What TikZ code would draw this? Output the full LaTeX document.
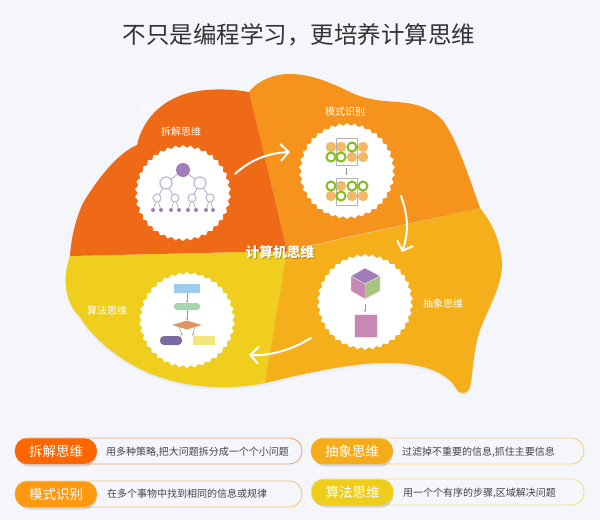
\documentclass[tikz,border=0pt]{standalone}
\usepackage{fontspec}
\setmainfont{Noto Sans CJK SC}
\usetikzlibrary{arrows.meta,shapes.geometric}
\definecolor{bgc}{HTML}{F4F6FB}
\definecolor{redc}{HTML}{EE6A16}
\definecolor{orc}{HTML}{F5931D}
\definecolor{amc}{HTML}{F4AF1A}
\definecolor{yec}{HTML}{EFCE1E}
\definecolor{purc}{HTML}{A07DB8}
\definecolor{lpur}{HTML}{CBBBDF}
\definecolor{pinkc}{HTML}{C987B3}
\definecolor{grnc}{HTML}{A9C47F}
\definecolor{ringc}{HTML}{84BD1E}
\definecolor{dotc}{HTML}{F0BA68}
\definecolor{txtc}{HTML}{444444}
\definecolor{fblue}{HTML}{9CCBEE}
\definecolor{fgreen}{HTML}{A7D6AE}
\definecolor{forange}{HTML}{E19463}
\definecolor{fpurple}{HTML}{7A6A9F}
\definecolor{fyellow}{HTML}{F2E57E}
\tikzset{
  stampc/.style={star,star points=38,star point ratio=1.06,minimum size=96pt,inner sep=0pt,fill=white,draw=none},
  lab/.style={text=white,font=\fontsize{10}{11}\selectfont},
  flow/.style={white,line width=2pt,line cap=round,-{Straight Barb[length=8pt,width=17pt,line width=2pt]}},
  thin/.style={draw=gray!80,line width=.6pt},
  thinarrow/.style={thin,-{Stealth[length=2pt,width=2pt]}},
  lv1/.style={circle,fill=purc,minimum size=14pt,inner sep=0pt},
  lv2/.style={circle,fill=white,draw=lpur,line width=1.4pt,minimum size=12pt,inner sep=0pt},
  lv3/.style={circle,fill=white,draw=lpur,line width=1.3pt,minimum size=8pt,inner sep=0pt},
  lv4/.style={circle,fill=purc,minimum size=4pt,inner sep=0pt},
  dotn/.style={circle,fill=dotc,minimum size=10.5pt,inner sep=0pt},
  ring/.style={circle,fill=white,draw=ringc,line width=2pt,minimum size=9pt,inner sep=0pt},
  framebox/.style={draw=gray!60,line width=.6pt,inner sep=0pt},
  pillout/.style={rounded corners=12.5pt,line width=.9pt,fill=bgc},
  pillc/.style={text=white,font=\fontsize{13.5}{14}\selectfont,rounded corners=12.5pt,minimum width=82pt,minimum height=25.5pt,inner sep=0pt},
  desc/.style={text=txtc,font=\fontsize{10}{11}\selectfont,anchor=west,inner sep=0pt},
}
\newcommand{\redpath}{(249,92) .. controls (228,88) and (196,88) .. (177,97) .. controls (158,105) and (142,122) .. (137,145) .. controls (118,153) and (98,178) .. (83,203) .. controls (76,218) and (71,238) .. (70,256) -- (287,251) -- (263,150) -- cycle}
\newcommand{\orpath}{(249,92) .. controls (258,80) and (276,73) .. (293,74) .. controls (312,75) and (330,82) .. (352,93) .. controls (372,102) and (392,101) .. (407,103) .. controls (425,106) and (436,112) .. (444,122) .. controls (458,142) and (470,180) .. (480,208) .. controls (440,217) and (340,238) .. (287,251) -- cycle}
\newcommand{\ampath}{(480,208) .. controls (490,220) and (500,238) .. (502,262) .. controls (503,285) and (487,310) .. (480,330) .. controls (473,350) and (473,375) .. (470,387) .. controls (468,394) and (460,396) .. (456,388) .. controls (446,372) and (425,365) .. (397,363) .. controls (360,361) and (310,372) .. (265,383) -- (287,251) -- cycle}
\newcommand{\yepath}{(70,256) .. controls (63,275) and (63,300) .. (80,317) .. controls (92,338) and (125,366) .. (160,377) .. controls (190,388) and (230,390) .. (265,383) -- (287,251) -- cycle}
\begin{document}
\begin{tikzpicture}[x=1pt,y=-1pt]
\useasboundingbox (0,0) rectangle (600,520);
\fill[bgc] (0,0) rectangle (600,520);
\node[font=\fontsize{23.5}{25}\selectfont,text=black!80,inner sep=0pt] (title) at (299,35) {不只是编程学习，更培养计算思维};
\node[text=white,font=\fontsize{11}{12}\selectfont,inner sep=0pt] (hidden) at (151,107) {运用};
% soft shadows
\foreach \k in {1,2,3}{
  \begin{scope}[shift={(0,\k)}]
  \fill[black,opacity=.018] \yepath; \fill[black,opacity=.018] \ampath; \fill[black,opacity=.018] \orpath;
  \end{scope}}
% regions
\fill[yec] \yepath;
\fill[amc] \ampath;
\fill[orc] \orpath;
\fill[redc] \redpath;
% stamps
\node[stampc] (c1) at (183,193) {};
\node[stampc] (c2) at (347,171) {};
\node[stampc] (c3) at (365,302) {};
\node[stampc] (c4) at (187,320) {};
% labels
\node[lab] (l1) at (181,132) {拆解思维};
\node[lab] (l2) at (345,112) {模式识别};
\node[lab] (l3) at (443,304) {抽象思维};
\node[lab] (l4) at (107,311) {算法思维};
\node[text=black,opacity=.25,font=\bfseries\fontsize{13.8}{14}\selectfont] at (281,253) {计算机思维};
\node[text=white,font=\bfseries\fontsize{13.8}{14}\selectfont] (center) at (280,252) {计算机思维};
% flow arrows
\coordinate (a1s) at (235,174); \coordinate (a1e) at (290,152);
\coordinate (a2s) at (401,196); \coordinate (a2e) at (402,252);
\coordinate (a3s) at (311,338); \coordinate (a3e) at (249,355);
\draw[flow] (a1s) .. controls (250,160) and (268,153) .. (a1e);
\draw[flow] (a2s) .. controls (408,215) and (409,232) .. (a2e);
\draw[flow] (a3s) .. controls (293,349) and (272,356) .. (a3e);
% tree icon
\node[lv1] (r) at (183,170) {};
\node[lv2] (m1) at (166,183) {};
\node[lv2] (m2) at (200,183) {};
\node[lv3] (k1) at (157,198) {};
\node[lv3] (k2) at (175,198) {};
\node[lv3] (k3) at (192,198) {};
\node[lv3] (k4) at (210,198) {};
\foreach \n/\x in {a/153,b/161,c/171,d/179,e/188,f/196,g/206,h/213}{\node[lv4] (z\n) at (\x,210) {};}
\draw[thin] (r)--(m1) (r)--(m2) (m1)--(k1) (m1)--(k2) (m2)--(k3) (m2)--(k4)
  (k1)--(za) (k1)--(zb) (k2)--(zc) (k2)--(zd) (k3)--(ze) (k3)--(zf) (k4)--(zg) (k4)--(zh);
% pattern icon
\foreach \n/\x/\y in {p1/331/147,p2/341/147,p3/363/147,p4/352/157,p5/363/157,q1/341/186,q2/331/196,q3/352/196,q4/363/196}{\node[dotn] (\n) at (\x,\y) {};}
\node[framebox,minimum width=21pt,minimum height=27pt] (fa) at (346.5,151.5) {};
\node[framebox,minimum width=21pt,minimum height=27pt] (fb) at (346.5,191.5) {};
\foreach \n/\x/\y in {g1/352/147,g2/331/157,g3/341/157,g4/331/186,g5/352/186,g6/363/186,g7/341/196}{\node[ring] (\n) at (\x,\y) {};}
\draw[thinarrow] (fa.south) ++(0,3) coordinate (fas) -- (346.5,175);
% cube icon
\fill[purc] (365,268) -- (380,276) -- (365,284) -- (351,276) -- cycle;
\fill[pinkc] (351,276) -- (365,284) -- (365,299) -- (351,291) -- cycle;
\fill[grnc] (380,276) -- (365,284) -- (365,299) -- (380,291) -- cycle;
\draw[white!85!gray,line width=.4pt] (365,268) -- (380,276) -- (380,291) -- (365,299) -- (351,291) -- (351,276) -- cycle (351,276) -- (365,284) -- (380,276) (365,284) -- (365,299);
\coordinate (cb) at (365,304);
\node[fill=pinkc,draw=white!80!pinkc,line width=.4pt,minimum size=23pt,inner sep=0pt] (sq) at (365.5,325.5) {};
\draw[thinarrow] (cb) -- (365,312);
% flow icon
\node[fill=fblue,minimum width=26pt,minimum height=9pt,inner sep=0pt] (f1) at (187,288.5) {};
\node[fill=fgreen,rounded corners=3pt,minimum width=26pt,minimum height=7pt,inner sep=0pt] (f2) at (187,306.5) {};
\node[diamond,aspect=3.3,fill=forange,minimum width=30pt,minimum height=9pt,inner sep=0pt] (f3) at (187,325) {};
\node[fill=fpurple,rounded corners=4pt,minimum width=22pt,minimum height=9pt,inner sep=0pt] (f4) at (171,340.5) {};
\node[fill=fyellow,minimum width=22pt,minimum height=9pt,inner sep=0pt] (f5) at (204,340.5) {};
\draw[thinarrow] (f1) -- (f2);
\draw[thinarrow] (f2) -- (f3);
\draw[thinarrow] (f3.south west) -- (f4.north east);
\draw[thinarrow] (f3.south east) -- (f5.north west);
% legend
\foreach \nm/\xa/\xb/\ya/\yb/\col in {o1/15/302/438/464/F4A670,o2/15/302/481/507/F8C678,o3/311/584/438/464/F8D27C,o4/311/584/479/505/F5DF80}{
  \definecolor{tmpc}{HTML}{\col}
  \draw[pillout,draw=tmpc] (\xa,\ya) rectangle (\xb,\yb);
}
\foreach \nm/\x/\y/\col/\t in {b1/56/451/FF6600/拆解思维,b2/56/494/FF9A10/模式识别,b3/352/451/F5AC1A/抽象思维,b4/352.5/492/EFCD1B/算法思维}{
  \definecolor{tmpc}{HTML}{\col}
  \fill[black,opacity=.13,rounded corners=12.5pt] (\x-39,\y-11) rectangle (\x+41,\y+15.5);
  \node[pillc,fill=tmpc] (\nm) at (\x,\y) {\t};
}
\node[desc] (d1) at (106,452) {用多种策略,把大问题拆分成一个个小问题};
\node[desc] (d2) at (107,494) {在多个事物中找到相同的信息或规律};
\node[desc] (d3) at (402,452) {过滤掉不重要的信息,抓住主要信息};
\node[desc] (d4) at (403,493) {用一个个有序的步骤,区域解决问题};
\end{tikzpicture}
\end{document}
